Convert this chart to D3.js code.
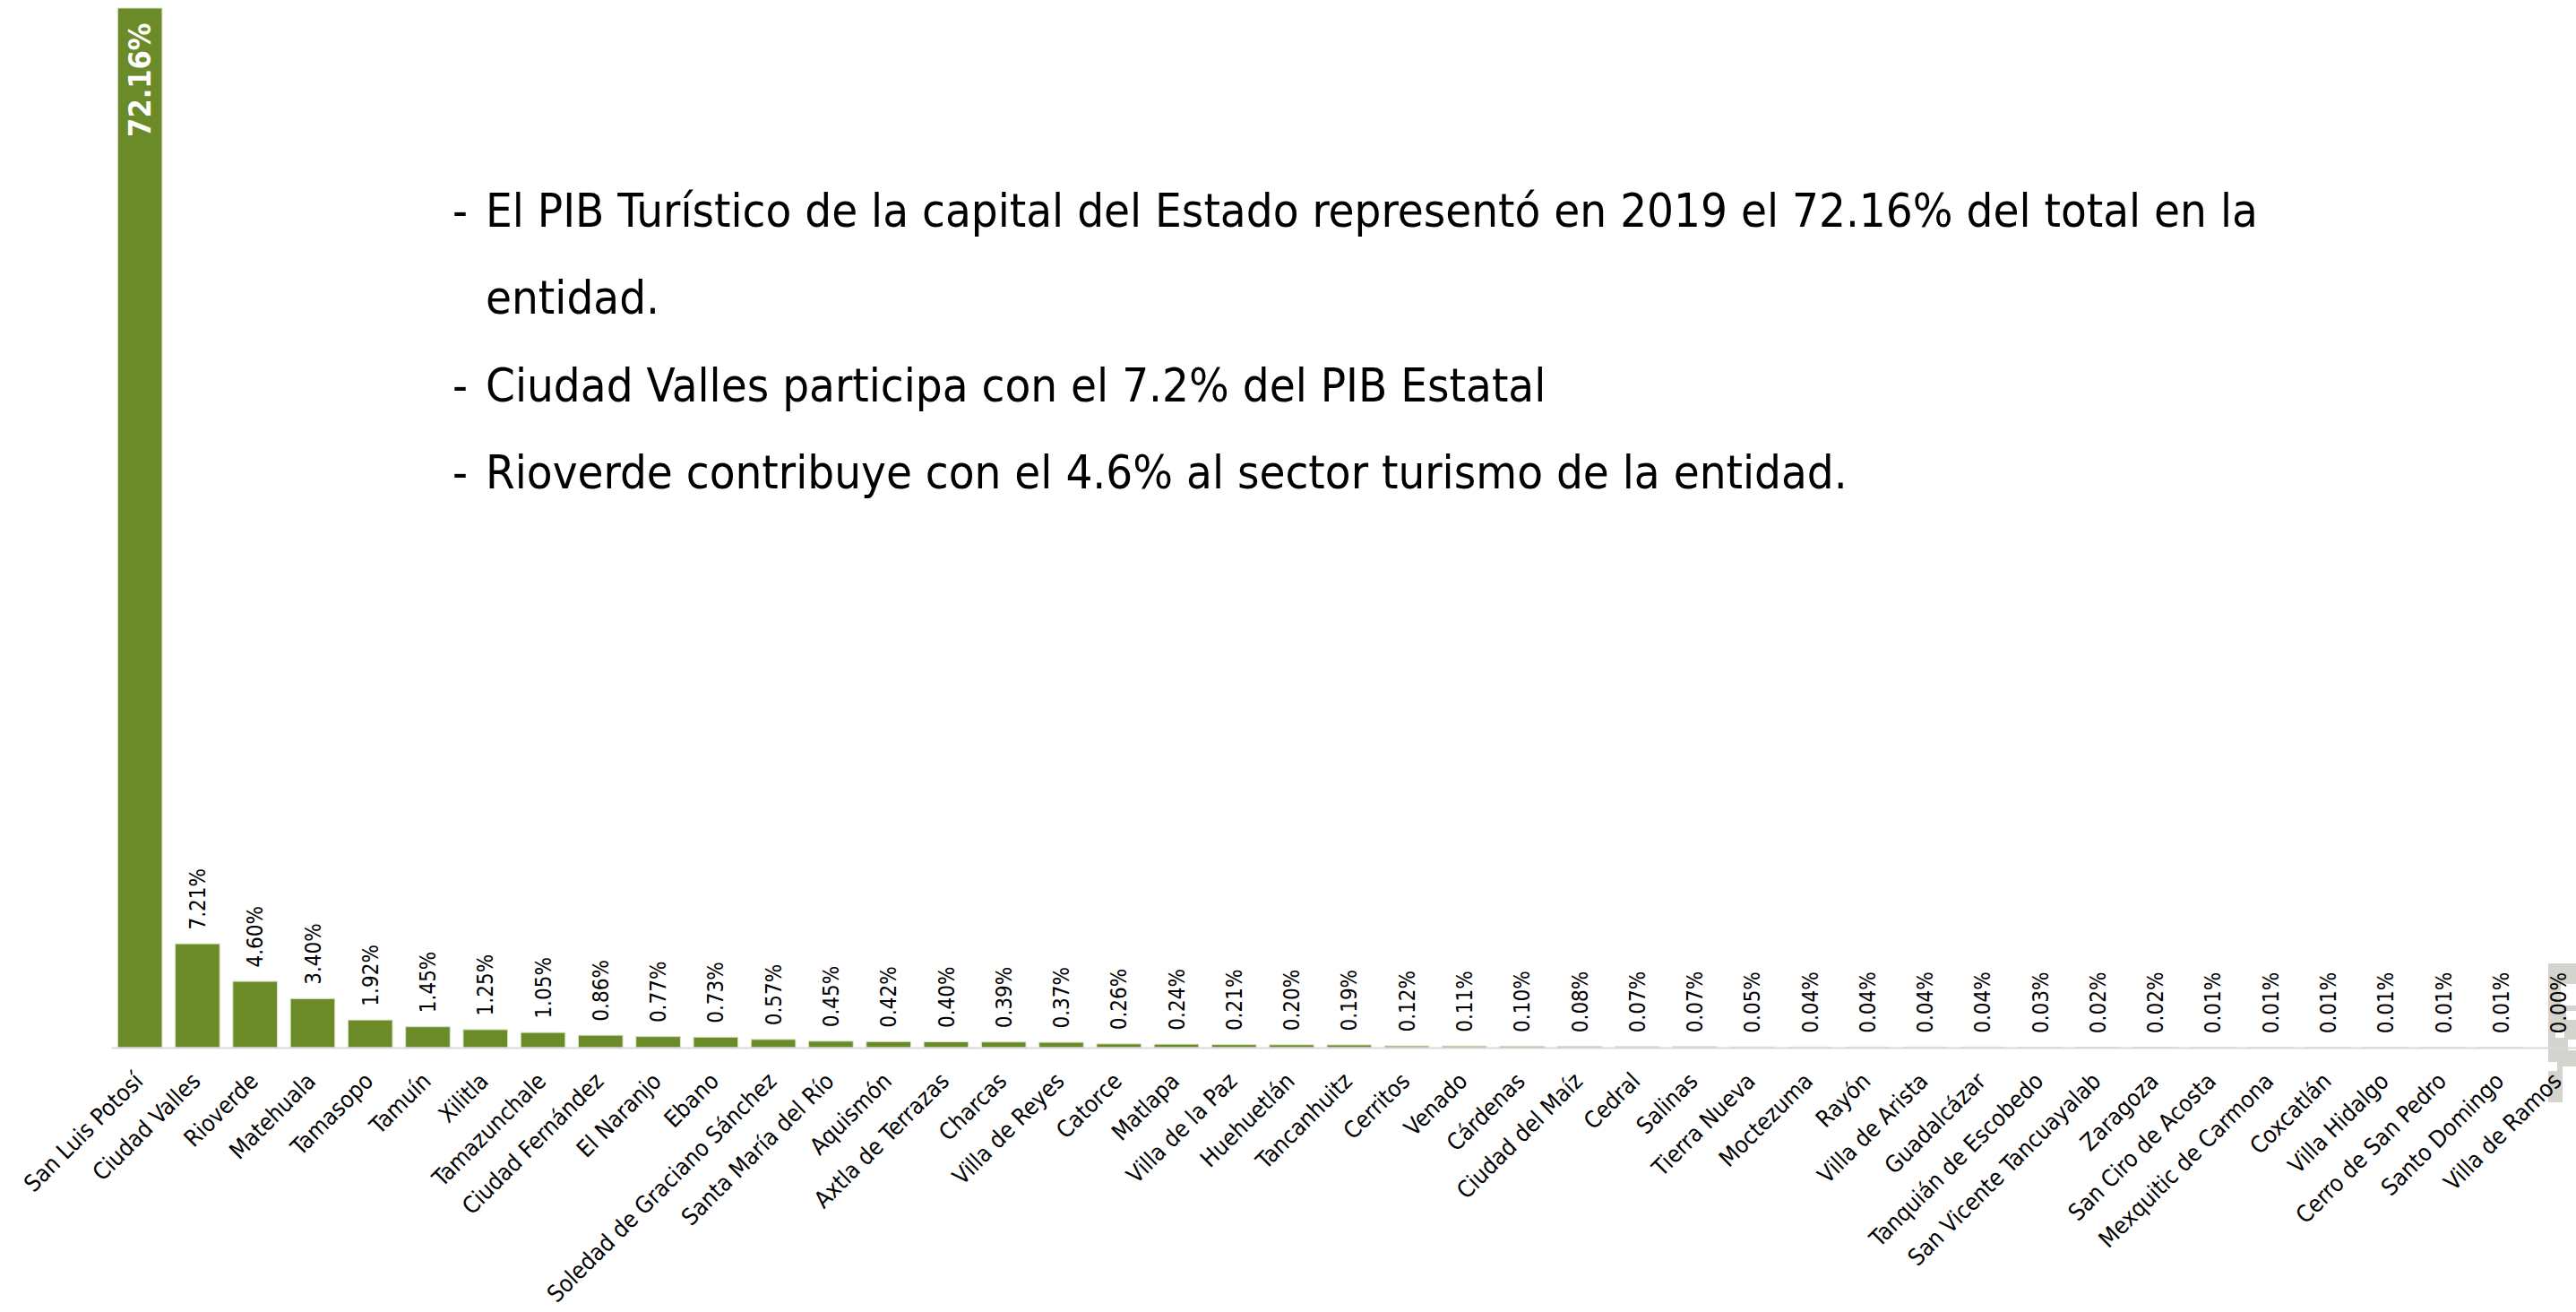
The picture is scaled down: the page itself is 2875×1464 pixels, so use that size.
<!DOCTYPE html>
<html>
<head>
<meta charset="utf-8">
<script src="https://cdn.jsdelivr.net/npm/d3@7"></script>
<style>
  html, body { margin: 0; padding: 0; background: #ffffff; }
  svg { display: block; }
</style>
</head>
<body>
<svg id="chart" width="2875" height="1464"></svg>
<script>
const categories = [
  "San Luis Potosí","Ciudad Valles","Rioverde","Matehuala","Tamasopo","Tamuín","Xilitla",
  "Tamazunchale","Ciudad Fernández","El Naranjo","Ebano","Soledad de Graciano Sánchez",
  "Santa María del Río","Aquismón","Axtla de Terrazas","Charcas","Villa de Reyes","Catorce",
  "Matlapa","Villa de la Paz","Huehuetlán","Tancanhuitz","Cerritos","Venado","Cárdenas",
  "Ciudad del Maíz","Cedral","Salinas","Tierra Nueva","Moctezuma","Rayón","Villa de Arista",
  "Guadalcázar","Tanquián de Escobedo","San Vicente Tancuayalab","Zaragoza","San Ciro de Acosta",
  "Mexquitic de Carmona","Coxcatlán","Villa Hidalgo","Cerro de San Pedro","Santo Domingo","Villa de Ramos"
];
const values = [
  72.16, 7.21, 4.60, 3.40, 1.92, 1.45, 1.25,
  1.05, 0.86, 0.77, 0.73, 0.57,
  0.45, 0.42, 0.40, 0.39, 0.37, 0.26,
  0.24, 0.21, 0.20, 0.19, 0.12, 0.11, 0.10,
  0.08, 0.07, 0.07, 0.05, 0.04, 0.04, 0.04,
  0.04, 0.03, 0.02, 0.02, 0.01,
  0.01, 0.01, 0.01, 0.01, 0.01, 0.00
];
const notes = [
  ["- ", "El PIB Turístico de la capital del Estado representó en 2019 el 72.16% del total en la"],
  ["", "entidad."],
  ["- ", "Ciudad Valles participa con el 7.2% del PIB Estatal"],
  ["- ", "Rioverde contribuye con el 4.6% al sector turismo de la entidad."]
];

// font detection: prefer a Tahoma-like condensed face
function hasFont(name) {
  const c = document.createElement('canvas').getContext('2d');
  const s = 'mmmmmmmmmmlli0.40%WWWabc';
  c.font = '40px monospace'; const w0 = c.measureText(s).width;
  c.font = `40px "${name}", monospace`; const w1 = c.measureText(s).width;
  return Math.abs(w0 - w1) > 0.5;
}
const condensed = hasFont('DejaVu Sans Condensed');
const FONT = condensed ? '"DejaVu Sans Condensed", "DejaVu Sans", sans-serif' : '"DejaVu Sans", sans-serif';
const SX = condensed ? 1 : 0.9;

const data = categories.map((c, i) => ({ cat: c, val: values[i] }));
const svg = d3.select('#chart');

const x = d3.scaleBand()
  .domain(categories)
  .range([124, 124 + 43 * 64.27])
  .paddingInner(0.228)
  .paddingOuter(0.114);
const y = d3.scaleLinear().domain([0, 72.16]).range([1169, 9]);

// bars
svg.append('g').selectAll('rect').data(data).join('rect')
  .attr('x', d => x(d.cat))
  .attr('y', d => y(d.val))
  .attr('width', x.bandwidth())
  .attr('height', d => y(0) - y(d.val))
  .attr('fill', '#6a8b27')
  .attr('stroke', '#dbe3c8')
  .attr('stroke-width', 1);

// grey marker artefact at the right edge
const mk = svg.append('g');
mk.append('rect').attr('x', 2844).attr('y', 1075).attr('width', 31).attr('height', 155).attr('fill', '#d5d3cd');
[[2858,1098,17,24],[2864,1128,11,10],[2852,1150,10,8],[2866,1160,9,12],[2860,1190,15,40],[2844,1185,10,10]]
  .forEach(r => mk.append('rect').attr('x', r[0]).attr('y', r[1]).attr('width', r[2]).attr('height', r[3]).attr('fill', '#ffffff'));

// axis
const axis = svg.append('g').attr('transform', `translate(0,${y(0)})`)
  .call(d3.axisBottom(x).tickSize(0).tickFormat(''));
axis.select('.domain').attr('stroke', '#d9d9d9').attr('stroke-width', 2);

// category labels
svg.append('g').selectAll('text').data(data).join('text')
  .attr('transform', d => `translate(${x(d.cat) + x.bandwidth() / 2 + 5},${y(0) + 39}) rotate(-45) scale(${SX},1)`)
  .attr('text-anchor', 'end')
  .attr('font-family', FONT)
  .attr('font-size', 26)
  .attr('fill', '#000')
  .text(d => d.cat);

// value labels
svg.append('g').selectAll('text').data(data.slice(1)).join('text')
  .attr('transform', d => `translate(${x(d.cat) + x.bandwidth() / 2},${y(d.val) - 15.5}) rotate(-90) scale(${SX},1)`)
  .attr('dy', '0.36em')
  .attr('text-anchor', 'start')
  .attr('font-family', FONT)
  .attr('font-size', 24)
  .attr('fill', '#000')
  .text(d => d.val.toFixed(2) + '%');

// big label inside first bar
svg.append('g').selectAll('text').data(data.slice(0, 1)).join('text')
  .attr('transform', d => `translate(${x(d.cat) + x.bandwidth() / 2},${y(d.val) + 16.5}) rotate(-90) scale(${SX},1)`)
  .attr('dy', '0.36em')
  .attr('text-anchor', 'end')
  .attr('font-family', FONT)
  .attr('font-weight', 'bold')
  .attr('font-size', 34)
  .attr('fill', '#ffffff')
  .text(d => d.val.toFixed(2) + '%');

// annotation text
const noteG = svg.append('g');
const baselines = [253, 350, 448, 545];
let fs = 49;
const probe = noteG.append('text').attr('font-family', FONT).attr('font-size', fs).text(notes[0][1]);
const w = probe.node().getComputedTextLength() * SX;
probe.remove();
fs = fs * 1978 / w;
notes.forEach((n, i) => {
  if (n[0]) noteG.append('text')
    .attr('transform', `translate(505,${baselines[i]}) scale(${SX},1)`)
    .attr('font-family', FONT).attr('font-size', fs).attr('fill', '#000').text('-');
  noteG.append('text')
    .attr('transform', `translate(542,${baselines[i]}) scale(${SX},1)`)
    .attr('font-family', FONT).attr('font-size', fs).attr('fill', '#000').text(n[1]);
});
</script>
</body>
</html>
